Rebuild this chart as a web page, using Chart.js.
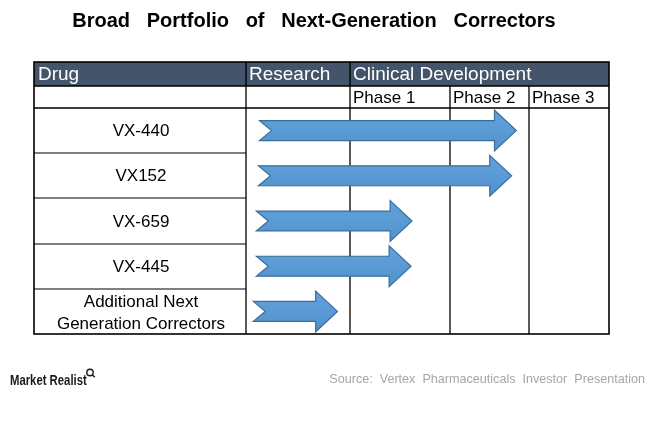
<!DOCTYPE html>
<html>
<head>
<meta charset="utf-8">
<script src="https://cdn.jsdelivr.net/npm/chart.js@4/dist/chart.umd.min.js"></script>
<style>
    html, body { margin: 0; padding: 0; background: #fff; }
    #wrap { width: 656px; height: 425px; position: relative; }
</style>
</head>
<body>
<div id="wrap"><canvas id="pipeline"></canvas></div>
<script>
'use strict';

// rows of the table (drug candidates)
const drugs = ['VX-440', 'VX152', 'VX-659', 'VX-445', ['Additional Next', 'Generation Correctors']];
// stage columns, one unit each on the x scale
const stages = ['Research', 'Phase 1', 'Phase 2', 'Phase 3'];
const stageGroup = 'Clinical Development';
// arrow extents, in stage units (0 = start of Research, 4 = end of Phase 3)
const arrowStart = [0.13, 0.12, 0.10, 0.10, 0.07];
const arrowEnd = [2.84, 2.78, 1.62, 1.61, 0.88];

const titleText = 'Broad   Portfolio   of   Next-Generation   Correctors';
const sourceText = 'Source:  Vertex  Pharmaceuticals  Investor  Presentation';

// relative widths of the stage columns in the table
const STAGE_WIDTHS = [104, 100, 79, 80];

function stageToFraction(value) {
    const total = STAGE_WIDTHS.reduce((a, b) => a + b, 0);
    const i = Math.max(0, Math.min(STAGE_WIDTHS.length - 1, Math.floor(value)));
    let acc = 0;
    for (let k = 0; k < i; k += 1) acc += STAGE_WIDTHS[k];
    acc += (value - i) * STAGE_WIDTHS[i];
    return acc / total;
}

// linear scale whose unit columns are not all the same width
class StageScale extends Chart.LinearScale {
    getPixelForValue(value) {
        if (typeof value !== 'number' || isNaN(value)) return super.getPixelForValue(value);
        return this.left + (this.right - this.left) * stageToFraction(value);
    }
}
StageScale.id = 'stage';
StageScale.defaults = Chart.LinearScale.defaults;
Chart.register(StageScale);

const FONT = 'Arial, "Liberation Sans", sans-serif';

const tablePlugin = {
    id: 'pipelineTable',
    beforeDatasetsDraw(chart) {
        const { ctx, chartArea, scales } = chart;
        const x = scales.x;
        const y = scales.y;
        const drugWidth = 212;
        const headerHeight = 24;
        const subHeaderHeight = 22;
        const left = chartArea.left - drugWidth;
        const right = chartArea.right;
        const top = chartArea.top;
        const bottom = chartArea.bottom;
        const subTop = top - subHeaderHeight;
        const headTop = subTop - headerHeight;
        const edges = stages.map((s, i) => x.getPixelForValue(i)).concat(x.getPixelForValue(stages.length));
        const band = (bottom - top) / drugs.length;

        ctx.save();
        // dark header row
        ctx.fillStyle = '#44546a';
        ctx.fillRect(left, headTop, right - left, headerHeight);

        ctx.textBaseline = 'middle';
        ctx.textAlign = 'left';
        ctx.fillStyle = '#ffffff';
        ctx.font = `19px ${FONT}`;
        const headMid = headTop + headerHeight / 2 + 1;
        ctx.fillText('Drug', left + 4, headMid);
        ctx.fillText(stages[0], edges[0] + 3, headMid);
        ctx.fillText(stageGroup, edges[1] + 3, headMid);

        ctx.fillStyle = '#000000';
        ctx.font = `17px ${FONT}`;
        const subMid = subTop + subHeaderHeight / 2 + 1;
        for (let i = 1; i < stages.length; i += 1) {
            ctx.fillText(stages[i], edges[i] + 3, subMid);
        }

        // drug names
        ctx.textAlign = 'center';
        ctx.font = `17px ${FONT}`;
        const drugMid = left + drugWidth / 2 + 1;
        drugs.forEach((d, i) => {
            const cy = y.getPixelForValue(i);
            const lines = Array.isArray(d) ? d : [d];
            const lh = 22;
            lines.forEach((line, j) => {
                ctx.fillText(line, drugMid, cy + 1 + (lines.length - 1) + (j - (lines.length - 1) / 2) * lh);
            });
        });

        // grey separators in the drug column
        ctx.strokeStyle = '#7f7f7f';
        ctx.lineWidth = 2;
        for (let i = 1; i < drugs.length; i += 1) {
            const yy = Math.round(top + band * i);
            ctx.beginPath();
            ctx.moveTo(left, yy);
            ctx.lineTo(edges[0], yy);
            ctx.stroke();
        }

        // black grid
        ctx.strokeStyle = '#000000';
        ctx.lineWidth = 1.3;
        ctx.beginPath();
        ctx.moveTo(left, subTop); ctx.lineTo(right, subTop);
        ctx.moveTo(left, top); ctx.lineTo(right, top);
        ctx.moveTo(edges[0], headTop); ctx.lineTo(edges[0], bottom);
        ctx.moveTo(edges[1], headTop); ctx.lineTo(edges[1], bottom);
        for (let i = 2; i < stages.length; i += 1) {
            ctx.moveTo(edges[i], subTop); ctx.lineTo(edges[i], bottom);
        }
        ctx.stroke();
        ctx.lineWidth = 1.6;
        ctx.strokeRect(left, headTop, right - left, bottom - headTop);
        ctx.restore();
    },
    afterDatasetsDraw(chart) {
        const { ctx } = chart;
        const meta = chart.getDatasetMeta(0);
        ctx.save();
        meta.data.forEach((bar) => {
            const { x, y, base, height } = bar.getProps(['x', 'y', 'base', 'height'], true);
            const h = height;
            const headH = h * 2.05;
            const headL = h * 1.1;
            const notch = h * 0.6;
            ctx.beginPath();
            ctx.moveTo(base, y - h / 2);
            ctx.lineTo(x - headL, y - h / 2);
            ctx.lineTo(x - headL, y - headH / 2);
            ctx.lineTo(x, y);
            ctx.lineTo(x - headL, y + headH / 2);
            ctx.lineTo(x - headL, y + h / 2);
            ctx.lineTo(base, y + h / 2);
            ctx.lineTo(base + notch, y);
            ctx.closePath();
            const grad = ctx.createLinearGradient(0, y - headH / 2, 0, y + headH / 2);
            grad.addColorStop(0, '#62a1da');
            grad.addColorStop(0.5, '#5b9bd5');
            grad.addColorStop(1, '#5090cb');
            ctx.fillStyle = grad;
            ctx.fill();
            ctx.strokeStyle = '#3b6e9c';
            ctx.lineWidth = 1.2;
            ctx.stroke();
        });
        ctx.restore();
    },
    afterDraw(chart) {
        const { ctx } = chart;
        ctx.save();
        ctx.textBaseline = 'middle';
        ctx.textAlign = 'right';
        ctx.fillStyle = '#a6a6a6';
        ctx.font = `12.6px ${FONT}`;
        ctx.fillText(sourceText, 645, 380);

        // condensed "Market Realist" mark
        ctx.textAlign = 'left';
        ctx.fillStyle = '#1a1a1a';
        ctx.font = `bold 15.5px ${FONT}`;
        ctx.save();
        ctx.translate(10, 381);
        ctx.scale(0.73, 1);
        ctx.fillText('Market Realist', 0, 0);
        ctx.restore();
        // little magnifier mark
        ctx.strokeStyle = '#1a1a1a';
        ctx.lineWidth = 1.4;
        ctx.beginPath();
        ctx.arc(90, 372.5, 3.2, 0, Math.PI * 2);
        ctx.moveTo(92.2, 374.7);
        ctx.lineTo(94.8, 377.3);
        ctx.stroke();
        ctx.restore();
    }
};

new Chart(document.getElementById('pipeline'), {
    type: 'bar',
    data: {
        labels: drugs,
        datasets: [{
            label: 'Stage reached',
            data: arrowStart.map((s, i) => [s, arrowEnd[i]]),
            backgroundColor: 'rgba(0,0,0,0)',
            borderWidth: 0,
            categoryPercentage: 1,
            barPercentage: 0.44
        }]
    },
    options: {
        indexAxis: 'y',
        responsive: true,
        maintainAspectRatio: false,
        animation: false,
        layout: {
            padding: { left: 19, right: 47, top: 0, bottom: 91 }
        },
        scales: {
            x: {
                type: 'stage',
                min: 0,
                max: 4,
                display: false
            },
            y: {
                type: 'category',
                offset: true,
                display: true,
                grid: { display: false },
                border: { display: false },
                ticks: { display: false },
                afterFit(scale) {
                    scale.width = 227;
                }
            }
        },
        plugins: {
            legend: { display: false },
            tooltip: { enabled: false },
            title: {
                display: true,
                text: titleText,
                color: '#000000',
                font: { family: FONT, size: 20, weight: 'bold', lineHeight: 1.2 },
                padding: { top: 9, bottom: 75 }
            }
        }
    },
    plugins: [tablePlugin]
});
</script>
</body>
</html>
